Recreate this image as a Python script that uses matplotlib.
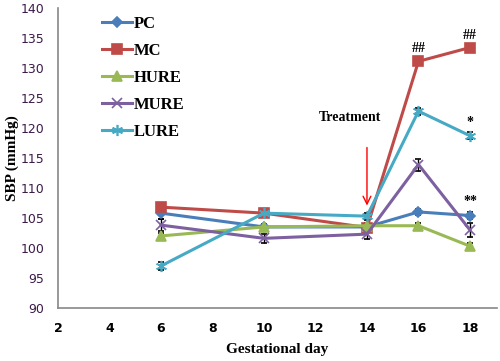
import matplotlib
matplotlib.use('Agg')
import matplotlib.pyplot as plt
from matplotlib.lines import Line2D

days = [6, 10, 14, 16, 18]
pc = [105.8, 103.5, 103.5, 106.0, 105.4]
mc = [106.8, 105.8, 103.4, 131.1, 133.4]
hure = [102.0, 103.5, 103.7, 103.7, 100.3]
mure = [103.8, 101.6, 102.3, 113.9, 103.0]
lure = [97.0, 105.8, 105.3, 122.8, 118.7]
pc_err = [1.0, 0.5, 0.5, 0.5, 0.6]
mc_err = [0.5, 0.5, 0.5, 0.5, 0.5]
hure_err = [0.5, 0.5, 0.5, 0.4, 0.5]
mure_err = [1.0, 0.8, 0.8, 1.0, 1.2]
lure_err = [0.6, 0.5, 0.6, 0.6, 0.6]

fig = plt.figure(figsize=(5, 3.61), dpi=100)
ax = fig.add_axes([0.116, 0.147, 0.878, 0.831])

series = [('PC', pc, pc_err, '#4A7EBB', 'D', 5),
          ('MC', mc, mc_err, '#BE4B48', 's', 7.5),
          ('HURE', hure, hure_err, '#98B954', '^', 7),
          ('MURE', mure, mure_err, '#7D60A0', 'x', 7),
          ('LURE', lure, lure_err, '#46AAC5', (6, 2, 0), 8)]

handles = []
for name, vals, err, c, m, ms in series:
    ax.errorbar(days, vals, yerr=err, color=c, marker=m, markersize=ms, lw=2.2,
                mew=1.2, ecolor='black', elinewidth=1, capsize=2.5, capthick=1,
                zorder=3)
    handles.append(Line2D([], [], color=c, marker=m, markersize=ms, lw=2.2,
                          mew=1.2, label=name))

ax.set_xlim(2, 19.05)
ax.set_ylim(90, 140)
ax.set_xticks(range(2, 20, 2))
ax.set_yticks(range(90, 141, 5))
ax.tick_params(length=0, pad=10)
for t in ax.get_xticklabels():
    t.set_fontweight('bold'); t.set_fontsize(9); t.set_fontfamily('DejaVu Sans')
for t in ax.get_yticklabels():
    t.set_fontsize(9); t.set_color('#3C1A4A'); t.set_fontfamily('DejaVu Sans')
for s in ['top', 'right']:
    ax.spines[s].set_visible(False)
for s in ['left', 'bottom']:
    ax.spines[s].set_color('#888888'); ax.spines[s].set_linewidth(1.2)

ax.set_xlabel('Gestational day', fontfamily='Liberation Serif', fontweight='bold', fontsize=11, labelpad=6)
ax.set_ylabel('SBP (mmHg)', fontfamily='Liberation Serif', fontweight='bold', fontsize=11, labelpad=1)

sf = dict(fontfamily='Liberation Serif', fontweight='bold', ha='center', va='bottom')
ax.text(16, mc[3] + 1.0, '##', fontsize=10, **sf)
ax.text(18, mc[4] + 1.0, '##', fontsize=10, **sf)
ax.text(18, lure[4] + 1.2, '*', fontsize=10, **sf)
ax.text(18, 106.7, '**', fontsize=10, **sf)
ax.text(13.35, 120.6, 'Treatment', fontsize=10, **sf)
ax.annotate('', xy=(14, 106.6), xytext=(14, 117.2),
            arrowprops=dict(arrowstyle='->', color='red', lw=1, mutation_scale=14))

ax.legend(handles=handles, loc='upper left', bbox_to_anchor=(0.067, 1.023), frameon=False,
          prop={'family': 'Liberation Serif', 'weight': 'bold', 'size': 12},
          handlelength=1.8, handletextpad=0.1, labelspacing=0.66)

fig.savefig('out.png', dpi=100)
